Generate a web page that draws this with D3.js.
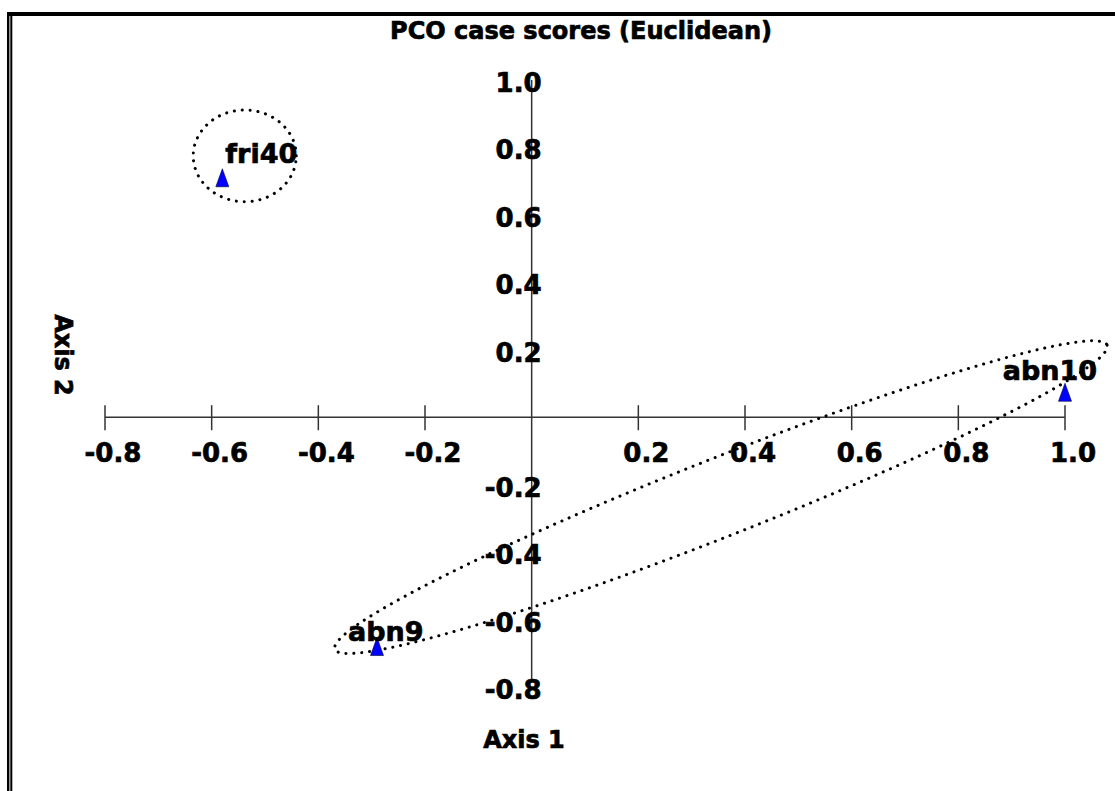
<!DOCTYPE html>
<html>
<head>
<meta charset="utf-8">
<script src="https://cdn.jsdelivr.net/npm/d3@7"></script>
<style>
  body { margin: 0; background: #fff; }
  text { font-family: "DejaVu Sans", sans-serif; font-weight: bold; fill: #000; stroke: #000; stroke-width: 0.7px; }
</style>
</head>
<body>
<svg id="chart" width="1115" height="791"></svg>
<script>
// case scores
var caseNames = ["fri40", "abn10", "abn9"];
var axis1Scores = [-0.58, 1.0, -0.29];
var axis2Scores = [0.71, 0.074, -0.68];

var xTicks = [-0.8, -0.6, -0.4, -0.2, 0.2, 0.4, 0.6, 0.8, 1.0];
var xTickLabels = ["-0.8", "-0.6", "-0.4", "-0.2", "0.2", "0.4", "0.6", "0.8", "1.0"];
var yTicks = [1.0, 0.8, 0.6, 0.4, 0.2, -0.2, -0.4, -0.6, -0.8];
var yTickLabels = ["1.0", "0.8", "0.6", "0.4", "0.2", "-0.2", "-0.4", "-0.6", "-0.8"];

// dotted group ellipses: centre and two semi-axis vectors (axis units)
var ellipseCenter = [[-0.538, 0.775], [0.355, -0.237]];
var ellipseAxisU = [[0.0966, 0], [0.724, 0.451]];
var ellipseAxisV = [[0, 0.136], [0.0268, -0.1077]];

// where each case label sits relative to its marker
var labelPlacement = {
  fri40: { anchor: "start", dx: 3, dy: -15 },
  abn10: { anchor: "end", dx: 32, dy: -12 },
  abn9: { anchor: "start", dx: -29, dy: -6 }
};

var svg = d3.select("#chart");

var x = d3.scaleLinear().domain([-0.8, 1.0]).range([105, 1065]);
var y = d3.scaleLinear().domain([-0.8, 1.0]).range([687, 80]);

// frame: heavy top rule, double rule on the left
svg.append("line").attr("x1", 7).attr("x2", 1115).attr("y1", 14).attr("y2", 14)
  .attr("stroke", "#000").attr("stroke-width", 4);
svg.append("line").attr("x1", 8.2).attr("x2", 8.2).attr("y1", 12).attr("y2", 791)
  .attr("stroke", "#000").attr("stroke-width", 2.4);
svg.append("line").attr("x1", 11.3).attr("x2", 11.3).attr("y1", 12).attr("y2", 791)
  .attr("stroke", "#000").attr("stroke-width", 2);

svg.append("text")
  .attr("x", 581).attr("y", 39)
  .attr("text-anchor", "middle")
  .attr("font-size", 24)
  .text("PCO case scores (Euclidean)");

// x axis through y = 0
var xAxis = svg.append("g").attr("class", "x-axis");
xAxis.append("line")
  .attr("x1", x(-0.8)).attr("x2", x(1.0))
  .attr("y1", y(0)).attr("y2", y(0))
  .attr("stroke", "#333").attr("stroke-width", 1.5);
xAxis.selectAll("line.tick").data(xTicks).enter().append("line")
  .attr("class", "tick")
  .attr("x1", function (d) { return x(d); })
  .attr("x2", function (d) { return x(d); })
  .attr("y1", y(0) - 12).attr("y2", y(0) + 13)
  .attr("stroke", "#333").attr("stroke-width", 1.5);
xAxis.selectAll("text").data(xTicks).enter().append("text")
  .attr("x", function (d) { return x(d) + 8; })
  .attr("y", y(0) + 45)
  .attr("text-anchor", "middle")
  .attr("font-size", 26)
  .text(function (d, i) { return xTickLabels[i]; });

// y axis through x = 0, labels only
var yAxis = svg.append("g").attr("class", "y-axis");
yAxis.append("line")
  .attr("x1", x(0)).attr("x2", x(0))
  .attr("y1", y(1.0)).attr("y2", y(-0.78))
  .attr("stroke", "#333").attr("stroke-width", 1.5);
yAxis.selectAll("text").data(yTicks).enter().append("text")
  .attr("x", x(0) + 10)
  .attr("y", function (d) { return y(d) + 12; })
  .attr("text-anchor", "end")
  .attr("font-size", 26)
  .text(function (d, i) { return yTickLabels[i]; });

svg.append("text")
  .attr("x", 524).attr("y", 748)
  .attr("text-anchor", "middle")
  .attr("font-size", 24)
  .text("Axis 1");

svg.append("text")
  .attr("transform", "translate(55,355) rotate(90)")
  .attr("text-anchor", "middle")
  .attr("font-size", 24)
  .text("Axis 2");

// ellipses
var line = d3.line()
  .x(function (p) { return x(p[0]); })
  .y(function (p) { return y(p[1]); })
  .curve(d3.curveLinearClosed);

var steps = d3.range(0, 2 * Math.PI, Math.PI / 90);
svg.selectAll("path.ellipse").data(ellipseCenter).enter().append("path")
  .attr("class", "ellipse")
  .attr("d", function (c, i) {
    var u = ellipseAxisU[i], v = ellipseAxisV[i];
    return line(steps.map(function (t) {
      return [c[0] + u[0] * Math.cos(t) + v[0] * Math.sin(t),
              c[1] + u[1] * Math.cos(t) + v[1] * Math.sin(t)];
    }));
  })
  .attr("fill", "none")
  .attr("stroke", "#000")
  .attr("stroke-width", 3)
  .attr("stroke-linecap", "round")
  .attr("stroke-dasharray", "0.1 7.8");

// markers and labels
var cases = svg.selectAll("g.case").data(caseNames).enter().append("g")
  .attr("class", "case")
  .attr("transform", function (d, i) {
    return "translate(" + x(axis1Scores[i]) + "," + y(axis2Scores[i]) + ")";
  });

cases.append("path")
  .attr("d", "M0,-9L6.5,9L-6.5,9Z")
  .attr("fill", "#0000ff")
  .attr("stroke", "#000033")
  .attr("stroke-width", 0.6);

cases.append("text")
  .attr("x", function (d) { return labelPlacement[d].dx; })
  .attr("y", function (d) { return labelPlacement[d].dy; })
  .attr("text-anchor", function (d) { return labelPlacement[d].anchor; })
  .attr("font-size", 27)
  .text(function (d) { return d; });
</script>
</body>
</html>
